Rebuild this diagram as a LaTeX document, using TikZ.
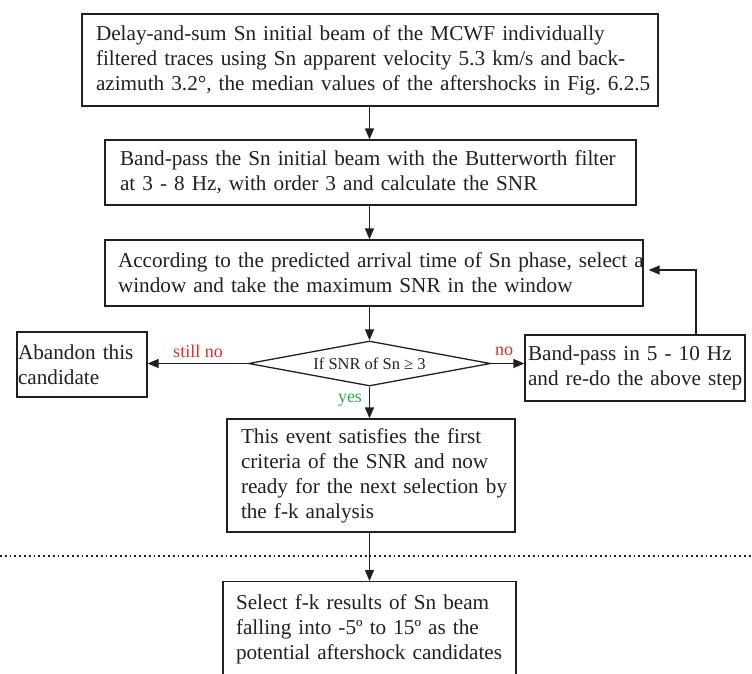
\documentclass[tikz,border=0pt]{standalone}
\usepackage{fontspec}
\setmainfont{Liberation Serif}
\usetikzlibrary{arrows.meta,shapes.geometric}
\definecolor{ink}{RGB}{35,31,32}
\definecolor{lblred}{RGB}{236,40,48}
\definecolor{lblgreen}{RGB}{46,170,70}
\begin{document}
\begin{tikzpicture}[x=1pt,y=-1pt,
  box/.style={draw=ink, line width=1.3pt, text=ink, align=left, inner ysep=0pt,
    font=\fontsize{21.2}{25}\selectfont\frenchspacing},
  conn/.style={draw=ink, line width=1.3pt, -{Triangle[length=11pt,width=9pt]}},
  lbl/.style={font=\fontsize{18}{20}\selectfont, inner sep=0pt}]
\useasboundingbox (0,0) rectangle (752,673);
\clip (0,0) rectangle (752,673);

\node[box, minimum width=576pt, minimum height=92pt, text width=548pt, inner xsep=14pt] (b1) at (370,60)
  {\mbox{Delay-and-sum Sn initial beam of the MCWF individually}\\
   \mbox{filtered traces using Sn apparent velocity 5.3 km/s and back-}\\
   \mbox{azimuth 3.2°, the median values of the aftershocks in Fig. 6.2.5}};

\node[box, minimum width=531pt, minimum height=65pt, text width=501pt, inner xsep=15pt] (b2) at (370.5,172.5)
  {\mbox{Band-pass the Sn initial beam with the Butterworth filter}\\
   \mbox{at 3 - 8 Hz, with order 3 and calculate the SNR}};

\node[box, minimum width=538pt, minimum height=66pt, text width=512pt, inner xsep=13pt] (b3) at (374,273)
  {\mbox{According to the predicted arrival time of Sn phase, select a}\\
   \mbox{window and take the maximum SNR in the window}};

\node[draw=ink, line width=1.3pt, diamond, aspect=5.4, inner sep=0pt,
  minimum width=242pt, minimum height=45pt, text=ink,
  font=\fontsize{16.5}{18}\selectfont] (d) at (369.5,363.5) {If SNR of Sn ≥ 3};

\node[box, minimum width=130pt, minimum height=65pt, text width=128pt, inner xsep=1pt] (ab) at (82,364.5)
  {\mbox{Abandon this}\\ \mbox{candidate}};

\node[box, minimum width=220pt, minimum height=66pt, text width=214pt, inner xsep=3pt] (bp) at (635,368)
  {\mbox{Band-pass in 5 - 10 Hz}\\ \mbox{and re-do the above step}};

\node[box, minimum width=288pt, minimum height=113pt, text width=260pt, inner xsep=14pt] (ev) at (371,475.5)
  {\mbox{This event satisfies the first}\\
   \mbox{criteria of the SNR and now}\\
   \mbox{ready for the next selection by}\\
   \mbox{the f-k analysis}};

\node[box, anchor=north, minimum width=293pt, minimum height=96pt, text width=267pt, inner xsep=13pt] (sel) at (369.5,581)
  {\mbox{Select f-k results of Sn beam}\\
   \mbox{falling into -5º to 15º as the}\\
   \mbox{potential aftershock candidates}};

\coordinate (fb) at (696,270);
\coordinate (dl) at (0,556);
\coordinate (dr) at (752,556);

\draw[conn] (b1.south -| d.north) -- (b2.north -| d.north);
\draw[conn] (b2.south -| d.north) -- (b3.north -| d.north);
\draw[conn] (b3.south -| d.north) -- (d.north);
\draw[conn] (d.west) -- (ab.east |- d.west);
\draw[conn] (d.east) -- (bp.west |- d.east);
\draw[conn, shorten >=5pt] (bp.north -| fb) -- (fb) -- (b3.east |- fb);
\draw[conn] (d.south) -- (ev.north -| d.south);
\draw[conn] (ev.south -| d.south) -- (sel.north -| d.south);
\draw[ink, line width=1.8pt, dash pattern=on 1.8pt off 3pt] (dl) -- (dr);

\node[lbl, text=lblred] (stillno) at (198,351) {still no};
\node[lbl, text=lblred] (nolbl) at (504,351) {no};
\node[lbl, text=lblgreen] (yeslbl) at (350,400) {yes};
\end{tikzpicture}
\end{document}
